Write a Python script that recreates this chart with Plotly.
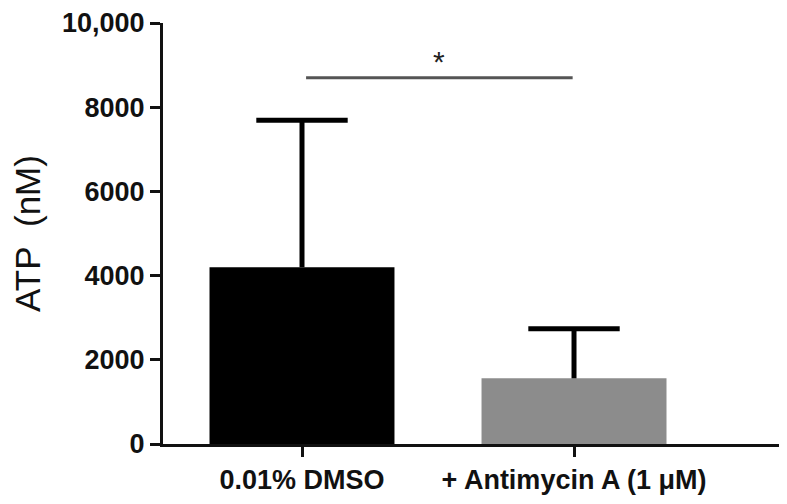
import plotly.graph_objects as go

categories = ["0.01% DMSO", "+ Antimycin A (1 \u03bcM)"]
means = [4200, 1560]
errors_up = [3490, 1180]
bar_colors = ["#000000", "#8c8c8c"]
y_tickvals = [0, 2000, 4000, 6000, 8000, 10000]
y_ticktext = ["0", "2000", "4000", "6000", "8000", "10,000"]
sig_y = 8700
sig_label = "*"

CAP = 0.168  # half-width of error caps in axis units

fig = go.Figure()
fig.add_trace(go.Bar(
    x=[0, 1], y=means, width=0.68,
    marker=dict(color=bar_colors, line=dict(width=0)),
    showlegend=False,
))
# one-sided (upper) error bars without a cap at the bar top
ex, ey = [], []
for i, (m, e) in enumerate(zip(means, errors_up)):
    top = m + e
    ex += [i, i, None, i - CAP, i + CAP, None]
    ey += [m, top, None, top, top, None]
fig.add_trace(go.Scatter(x=ex, y=ey, mode="lines",
                         line=dict(color="#000000", width=5),
                         showlegend=False, hoverinfo="skip"))
fig.add_trace(go.Scatter(
    x=[0.015, 0.995], y=[sig_y, sig_y], mode="lines",
    line=dict(color="#555555", width=3), showlegend=False, hoverinfo="skip",
))
fig.add_annotation(x=0.505, y=sig_y, text=sig_label, showarrow=False,
                   yshift=16, font=dict(size=30, color="#222222", family="Liberation Sans"))

fig.update_layout(
    width=779, height=488,
    margin=dict(l=155, r=0, t=12, b=52),
    paper_bgcolor="white", plot_bgcolor="white",
    font=dict(family="Liberation Sans, Arial, sans-serif", color="#111111"),
    xaxis=dict(
        range=[-0.511, 1.783], tickvals=[0, 1], ticktext=categories,
        showline=True, linecolor="#111111", linewidth=3,
        ticks="outside", ticklen=10, tickwidth=3, tickcolor="#111111",
        tickfont=dict(size=27, family="Liberation Sans, Arial", weight="bold"),
        showgrid=False, zeroline=False, ticklabeloverflow="allow",
    ),
    yaxis=dict(
        range=[0, 10000], tickvals=y_tickvals, ticktext=y_ticktext,
        showline=True, linecolor="#111111", linewidth=3,
        ticks="outside", ticklen=10, tickwidth=3, tickcolor="#111111",
        tickfont=dict(size=27, family="Liberation Sans, Arial", weight="bold"),
        showgrid=False, zeroline=False, ticklabeloverflow="allow",
        title=dict(text="ATP\u00a0\u00a0(nM)", font=dict(size=35, family="Liberation Sans, Arial"), standoff=22),
    ),
)
fig.write_html("out.html")
